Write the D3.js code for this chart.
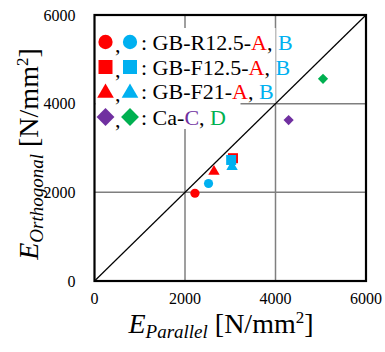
<!DOCTYPE html>
<html lang="en">
<head>
  <meta charset="UTF-8" />
  <title>E parallel vs E orthogonal</title>
  <script src="https://d3js.org/d3.v7.min.js"></script>
  <style>
    body { margin: 0; background: #fff; }
  </style>
</head>
<body>
  <div id="chart"></div>
  <script>
    // data
    const seriesNames = ["GB-R12.5-A", "GB-R12.5-B", "GB-F12.5-A", "GB-F12.5-B", "GB-F21-A", "GB-F21-B", "Ca-C", "Ca-D"];
    const seriesShapes = ["circle", "circle", "square", "square", "triangle", "triangle", "diamond", "diamond"];
    const seriesColors = ["#ff0000", "#00b0f0", "#ff0000", "#00b0f0", "#ff0000", "#00b0f0", "#7030a0", "#00b050"];
    const eParallel = [2220, 2520, 3060, 3020, 2640, 3040, 4290, 5050];
    const eOrthogonal = [1980, 2200, 2770, 2730, 2470, 2580, 3630, 4560];
    const axisTicks = [0, 2000, 4000, 6000];

    // legend rows: which series go in the row, and the label pieces
    const legendRows = [
      { series: [0, 1], prefix: "GB-R12.5-", a: "A", b: "B" },
      { series: [2, 3], prefix: "GB-F12.5-", a: "A", b: "B" },
      { series: [4, 5], prefix: "GB-F21-", a: "A", b: "B" },
      { series: [6, 7], prefix: "Ca-", a: "C", b: "D" }
    ];

    const W = 385, H = 352;
    const plot = { left: 94.5, right: 366, top: 15, bottom: 281 };
    const serif = "'Liberation Serif', 'Times New Roman', 'DejaVu Serif', serif";

    const svg = d3.select("#chart").append("svg")
      .attr("width", W).attr("height", H)
      .attr("font-family", serif);

    const x = d3.scaleLinear().domain([0, 6000]).range([plot.left, plot.right]);
    const y = d3.scaleLinear().domain([0, 6000]).range([plot.bottom, plot.top]);

    // gridlines
    const inner = axisTicks.slice(1, -1);
    svg.append("g").selectAll("line").data(inner).join("line")
      .attr("x1", d => x(d)).attr("x2", d => x(d))
      .attr("y1", plot.top).attr("y2", plot.bottom)
      .attr("stroke", "#7f7f7f").attr("stroke-width", 1.5);
    svg.append("g").selectAll("line").data(inner).join("line")
      .attr("y1", d => y(d)).attr("y2", d => y(d))
      .attr("x1", plot.left).attr("x2", plot.right)
      .attr("stroke", "#7f7f7f").attr("stroke-width", 1.5);

    // 1:1 line
    svg.append("line")
      .attr("x1", x(0)).attr("y1", y(0))
      .attr("x2", x(6000)).attr("y2", y(6000))
      .attr("stroke", "#000").attr("stroke-width", 1.2);

    // tick labels
    svg.append("g").selectAll("text").data(axisTicks).join("text")
      .attr("x", plot.left - 19).attr("y", d => y(d) + 5.5)
      .attr("text-anchor", "end").style("font-size", "16px")
      .text(d => d);
    svg.append("g").selectAll("text").data(axisTicks).join("text")
      .attr("x", d => x(d)).attr("y", plot.bottom + 23)
      .attr("text-anchor", "middle").style("font-size", "16px")
      .text(d => d);

    // symbols
    function symbolPath(shape, big) {
      const sizes = big
        ? { circle: 160, square: 196, triangle: 120, diamond: 160 }
        : { circle: 66, square: 100, triangle: 56, diamond: 52 };
      const type = shape === "circle" ? d3.symbolCircle
        : shape === "triangle" ? d3.symbolTriangle
        : d3.symbolSquare;
      return d3.symbol().type(type).size(sizes[shape])();
    }
    function rot(shape) { return shape === "diamond" ? " rotate(45)" : ""; }

    // legend background (white boxes behind the rows)
    const legendY = [42, 67, 91.5, 117];
    svg.append("rect").attr("x", plot.left + 1).attr("y", 28)
      .attr("width", 180).attr("height", 75).attr("fill", "#fff");
    svg.append("rect").attr("x", plot.left + 1).attr("y", 103)
      .attr("width", 145).attr("height", 26).attr("fill", "#fff");

    // points
    const order = [0, 1, 4, 2, 3, 5, 6, 7];
    svg.append("g").selectAll("path").data(order).join("path")
      .attr("d", i => symbolPath(seriesShapes[i], false))
      .attr("transform", i => `translate(${x(eParallel[i])},${y(eOrthogonal[i])})${rot(seriesShapes[i])}`)
      .attr("fill", i => seriesColors[i]);

    // legend
    const lg = svg.append("g");
    legendRows.forEach((row, r) => {
      const cy = legendY[r];
      const ty = cy + 7.5;
      const [ia, ib] = row.series;
      const dy = seriesShapes[ia] === "triangle" ? 1.5 : 0;
      lg.append("path").attr("d", symbolPath(seriesShapes[ia], true))
        .attr("transform", `translate(105.5,${cy + dy})${rot(seriesShapes[ia])}`)
        .attr("fill", seriesColors[ia]);
      lg.append("path").attr("d", symbolPath(seriesShapes[ib], true))
        .attr("transform", `translate(130,${cy + dy})${rot(seriesShapes[ib])}`)
        .attr("fill", seriesColors[ib]);
      lg.append("text").attr("x", 115).attr("y", ty + 2)
        .style("font-size", "22px").text(",");
      const t = lg.append("text").attr("x", 141).attr("y", ty)
        .style("font-size", "22px");
      t.append("tspan").text(": " + row.prefix);
      t.append("tspan").attr("fill", seriesColors[ia]).text(row.a);
      t.append("tspan").text(", ");
      t.append("tspan").attr("fill", seriesColors[ib]).text(row.b);
    });

    // plot frame
    svg.append("rect")
      .attr("x", plot.left).attr("y", plot.top)
      .attr("width", plot.right - plot.left).attr("height", plot.bottom - plot.top)
      .attr("fill", "none").attr("stroke", "#000").attr("stroke-width", 2.2);

    // axis titles
    function axisTitle(sel, sub) {
      sel.append("tspan").style("font-style", "italic").style("font-size", "28px").text("E");
      sel.append("tspan").style("font-style", "italic").style("font-size", "19px")
        .attr("dy", 5).text(sub);
      sel.append("tspan").style("font-size", "28px").attr("dy", -5).text(" [N/mm");
      sel.append("tspan").style("font-size", "17px").attr("dy", -10).text("2");
      sel.append("tspan").style("font-size", "28px").attr("dy", 10).text("]");
    }
    const xt = svg.append("text").attr("x", 221).attr("y", 333).attr("text-anchor", "middle");
    axisTitle(xt, "Parallel");
    const yt = svg.append("text").attr("transform", "translate(38,154) rotate(-90)")
      .attr("text-anchor", "middle");
    axisTitle(yt, "Orthogonal");
  </script>
</body>
</html>
